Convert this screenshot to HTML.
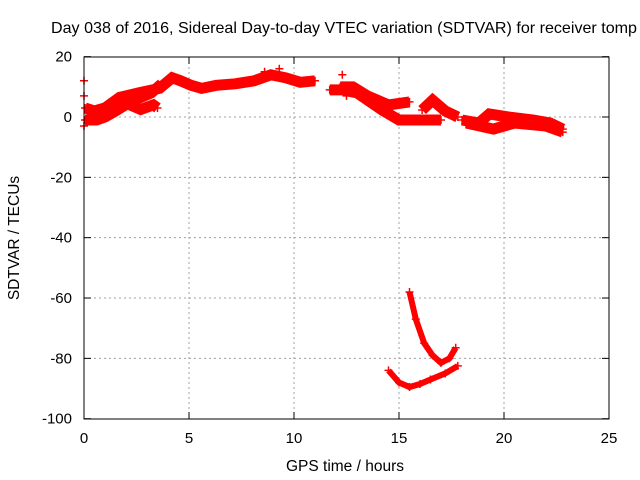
<!DOCTYPE html>
<html><head><meta charset="utf-8"><style>
body{margin:0;background:#fff}
svg{display:block;font-family:"Liberation Sans",sans-serif}
</style></head><body>
<svg id="chart" width="640" height="480">
<text x="51" y="33" font-size="16" textLength="586" lengthAdjust="spacingAndGlyphs" fill="#000">Day 038 of 2016, Sidereal Day-to-day VTEC variation (SDTVAR) for receiver tomp</text>
<text x="345" y="471" font-size="15.5" text-anchor="middle">GPS time / hours</text>
<text transform="translate(19,238) rotate(-90)" font-size="15.5" text-anchor="middle">SDTVAR / TECUs</text>
<g id="grid"></g><g id="ticks"></g><g id="marks"></g>
<rect x="84" y="57" width="525" height="362" fill="none" stroke="#000" stroke-width="1"/>
</svg>
<script>
const xTicks=[0,5,10,15,20,25];
const yTicks=[20,0,-20,-40,-60,-80,-100];
const trackA=[[0.05,3],[0.5,2],[1,3],[1.7,6.5],[2.6,8],[3.6,9.5],[4.2,13],[4.6,12],[5.1,10.5],[5.6,9.5],[6.3,10.5],[7.2,11],[8.1,12],[8.9,14],[9.6,13],[10.3,11.5],[11,12]];
const trackB=[[0.05,-1],[0.6,-1],[1,0],[1.5,2],[2.2,5],[3.2,8],[3.7,11]];
const trackB2=[[2.2,4],[2.7,2.5],[3.3,4],[3.5,3]];
const trackC=[[11.7,9],[12.3,9],[13,8],[14.2,2.3],[15,-1],[16,-1],[17,-1]];
const trackC2=[[12.2,10],[12.8,10],[13.5,7],[14.5,4],[15.5,5]];
const trackC3=[[16.1,2.3],[16.6,5.6],[17.2,2],[17.8,0]];
const trackE=[[18,-1],[18.8,-2],[19.3,1],[20.2,0],[21.4,-1],[22.2,-2],[22.8,-4]];
const trackE2=[[18.2,-2],[19.5,-4],[20.5,-2],[22,-3],[22.8,-5]];
const trackD1=[[14.5,-84],[15,-88],[15.5,-89.5],[16,-88.5],[16.5,-87],[17.2,-85],[17.8,-82.5]];
const trackD2=[[15.5,-58],[15.8,-67],[16.2,-75],[16.6,-79],[17,-81.5],[17.4,-80],[17.7,-76.5]];
const extras=[[0,7],[0,-3],[0,12],[8.6,15],[9.3,16],[12.3,14],[12.5,7]];
const X=h=>84+h*21, Y=v=>117-v*3.017;
const NS='http://www.w3.org/2000/svg';
function mk(t,a,p){const e=document.createElementNS(NS,t);for(const k in a)e.setAttribute(k,a[k]);p.appendChild(e);return e;}
const grid=document.getElementById('grid'),ticks=document.getElementById('ticks'),marks=document.getElementById('marks');
xTicks.forEach(t=>{const x=X(t);
 if(t>0&&t<25){const g=mk('line',{x1:x,x2:x,y1:57,y2:419,stroke:'#a0a0a0','stroke-dasharray':'2,3'},grid);
 
 }
 mk('line',{x1:x,x2:x,y1:419,y2:412,stroke:'#000'},ticks);mk('line',{x1:x,x2:x,y1:57,y2:64,stroke:'#000'},ticks);
 const l=mk('text',{x:x,y:443,'font-size':15,'text-anchor':'middle'},ticks);l.textContent=t;
 
 });
yTicks.forEach(t=>{const y=Y(t);
 if(t<20&&t>-100){const g=mk('line',{x1:84,x2:609,y1:y,y2:y,stroke:'#a0a0a0','stroke-dasharray':'2,3'},grid);
 
 }
 mk('line',{x1:84,x2:91,y1:y,y2:y,stroke:'#000'},ticks);mk('line',{x1:609,x2:602,y1:y,y2:y,stroke:'#000'},ticks);
 const l=mk('text',{x:72,y:y+5,'font-size':15,'text-anchor':'end'},ticks);l.textContent=t;
 
 });
[trackA,trackB,trackB2,trackC,trackC2,trackC3,trackE,trackE2,trackD1,trackD2].forEach(tr=>{
 const p=mk('polyline',{points:tr.map(d=>X(d[0])+','+Y(d[1])).join(' '),fill:'none',stroke:'#f00','stroke-width':tr===trackD1||tr===trackD2?6:11,'stroke-linejoin':'miter','stroke-linecap':'butt'},marks);
 
 
 tr.forEach(d=>{const x=X(d[0]),y=Y(d[1]);
  const m=mk('path',{d:`M${x-4},${y}h8M${x},${y-4}v8`,stroke:'#f00','stroke-width':1.5},marks);
  
  });
});
extras.forEach(d=>{const x=X(d[0]),y=Y(d[1]);
 const m=mk('path',{d:`M${x-4},${y}h8M${x},${y-4}v8`,stroke:'#f00','stroke-width':1.5},marks);
 
 });
</script>
</body></html>
